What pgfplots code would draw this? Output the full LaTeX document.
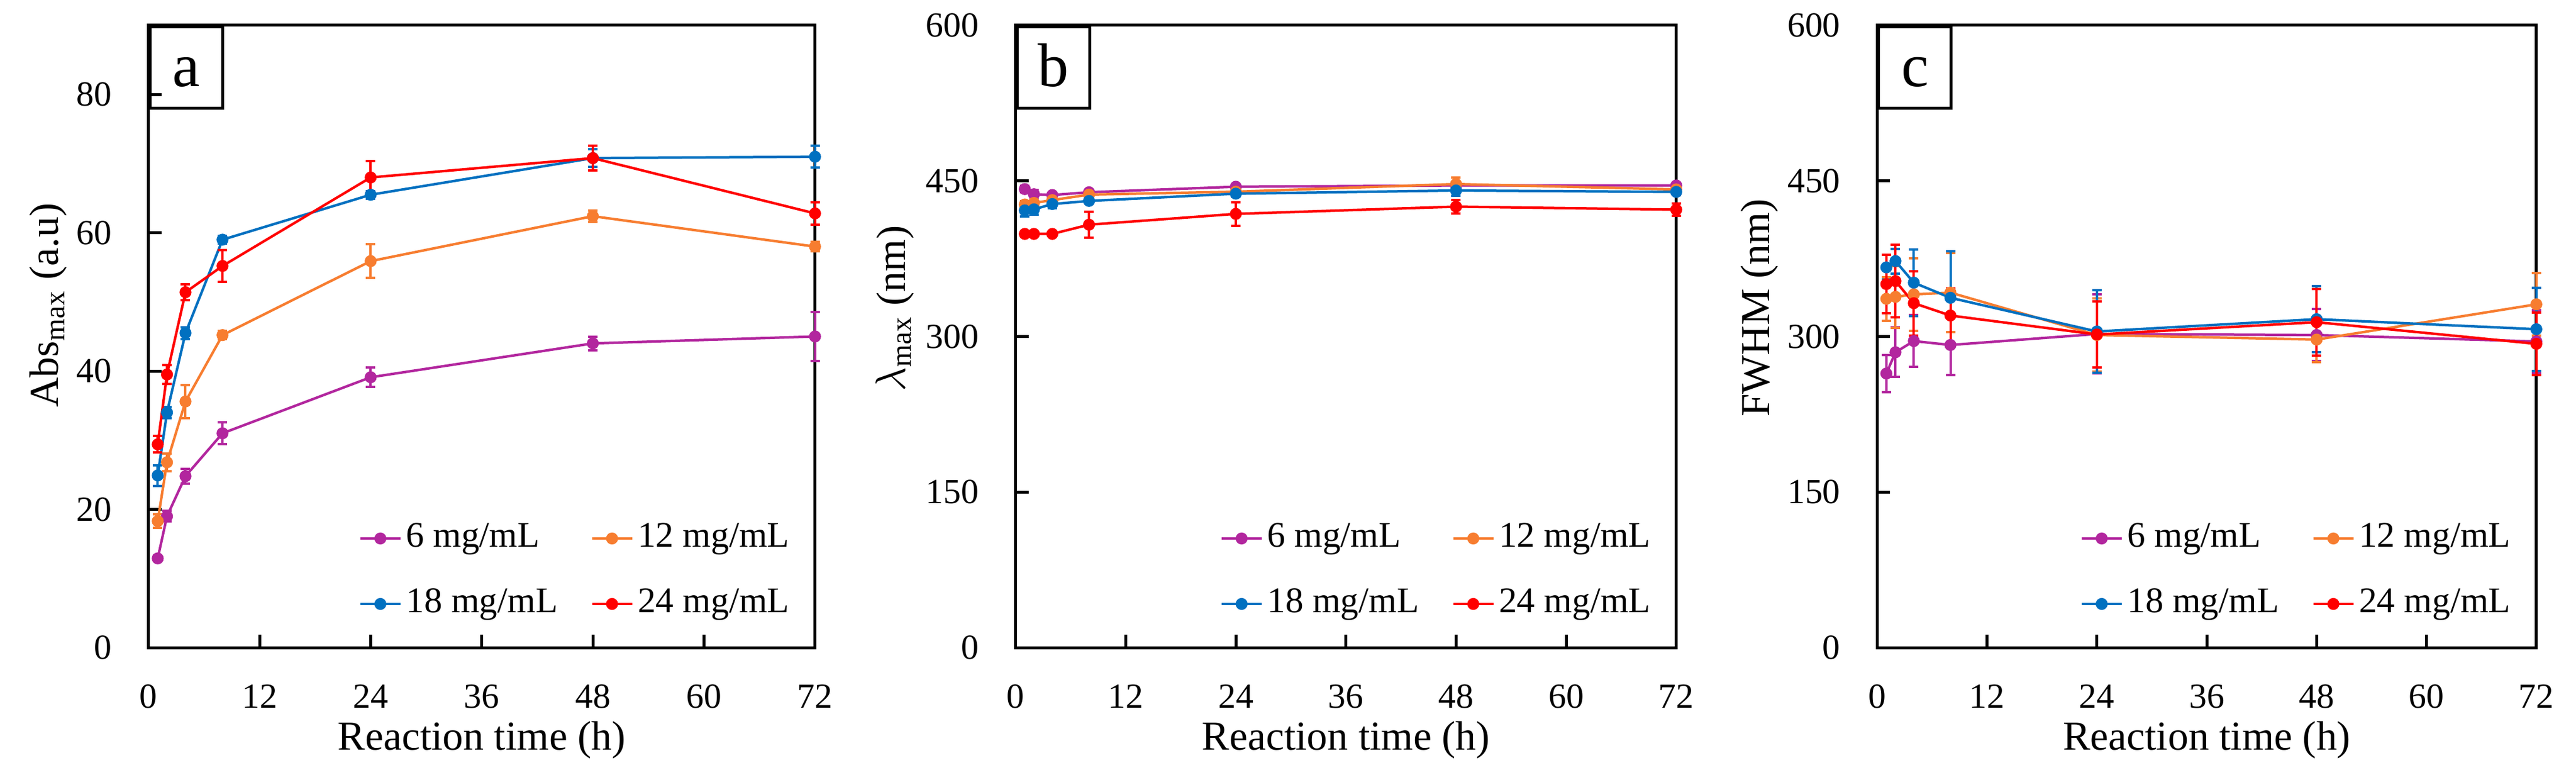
\documentclass[border=0pt]{standalone}
\usepackage{fontspec}
\setmainfont{Liberation Serif}
\usepackage{pgfplots}
\usepackage{pgfplotstable}
\pgfplotsset{compat=1.18}
\definecolor{c6}{RGB}{178,38,158}
\definecolor{c12}{RGB}{247,125,48}
\definecolor{c18}{RGB}{0,112,192}
\definecolor{c24}{RGB}{255,0,0}

\pgfplotstableread{
t a6 e6 a12 e12 a18 e18 a24 e24
1 12.9 0.4 18.3 1.0 24.9 1.5 29.4 1.2
2 19.0 0.75 26.8 1.3 34.0 0.8 39.5 1.35
4 24.8 1.05 35.6 2.4 45.5 0.85 51.4 1.15
8 31.0 1.55 45.2 0.6 59.0 0.55 55.2 2.3
24 39.1 1.4 55.9 2.45 65.5 0.55 68.0 2.4
48 44.0 1.0 62.4 0.8 70.8 1.25 70.8 1.8
72 45.0 3.5 58.0 0.7 71.0 1.6 62.8 1.65
}\tabA

\pgfplotstableread{
t a6 e6 a12 e12 a18 e18 a24 e24
1 442.1 3 427.3 3 421.6 6 398.9 0.5
2 437.2 4 428.8 3 422.6 5 398.9 0.5
4 436.4 2 431.5 3 427.7 4 398.9 0.5
8 439.1 2 436.8 2 430.7 2 407.8 12.7
24 444.4 2 439.6 3 437.7 3 418.2 11.4
48 445.6 2 447.0 6 440.8 5 425.2 6.4
72 445.6 2 441.8 3 439.4 3 422.3 6
}\tabB

\pgfplotstableread{
t a6 e6 a12 e12 a18 e18 a24 e24
1 264.3 18 336.3 21 366.6 12 350.5 28
2 284.8 24 338.2 30 372.7 12 353.4 35
4 295.6 25 340.6 35 351.9 32 332.1 31
8 291.8 29 342.3 38 337.3 45 320.2 26
24 302.4 38 301.4 35 304.8 40 301.9 32
48 301.4 25 297.0 22 316.7 32 313.8 32
72 295.2 30 331.0 30 307.0 40 292.9 30
}\tabC

\tikzset{
  tag/.style={draw, line width=1bp, anchor=north west, minimum width=24.6bp,
    inner sep=0pt, text height=20.2bp, text depth=7.4bp,
    font=\fontsize{21}{21}\selectfont},
}

\pgfplotsset{
  panel/.style={
    scale only axis,
    height=211bp,
    xmin=0, xmax=72,
    xtick={0,12,...,72},
    tick align=inside,
    xtick pos=bottom,
    ytick pos=left,
    major tick length=4.4bp,
    every tick/.style={black, line width=1bp},
    axis line style={line width=1bp},
    clip=false,
    /pgf/number format/assume math mode=true,
    ticklabel style={font=\fontsize{12}{14}\selectfont},
    xticklabel style={anchor=center, yshift=-16.6bp},
    yticklabel style={anchor=east, inner xsep=0pt, xshift=-12.3bp},
    label style={font=\fontsize{14}{16}\selectfont},
    xlabel={Reaction time (h)},
    xlabel style={at={([yshift=-34.7bp]axis description cs:0.5,0)}, anchor=base},
    legend columns=2,
    legend cell align=left,
    legend style={draw=none, fill=none, at={(rel axis cs:1,0)}, anchor=south east,
      xshift=-8.5bp, yshift=9bp, inner sep=0pt, row sep=11bp,
      font=\fontsize{12.3}{14}\selectfont,
      nodes={inner sep=0pt, text height=8.5bp, text depth=2.7bp},
      /tikz/every odd column/.append style={column sep=1.5bp},
      /tikz/every even column/.append style={column sep=11.2bp}},
    legend image code/.code={\draw[mark repeat=2,mark phase=2,##1] plot coordinates {(0bp,0bp) (6.8bp,0bp) (13.6bp,0bp)};},
  },
  ser/.style={color=#1, mark=*, mark size=1.6bp, line width=0.85bp,
    mark options={solid, fill=#1},
    error bars/.cd, y dir=both, y explicit,
    error bar style={line width=0.8bp, color=#1},
    error mark options={rotate=90, mark size=1.6bp, line width=0.8bp, color=#1}},
}

\begin{document}
\begin{tikzpicture}
\useasboundingbox (0,0) rectangle (873.4bp,262.8bp);

\begin{axis}[panel, at={(50.34bp,43.2bp)}, anchor=south west, width=226bp,
  ymin=0, ymax=90, ytick={0,20,...,80},
  ylabel={Abs\textsubscript{max} (a.u)},
  ylabel style={at={([xshift=-34bp]axis description cs:0,0.55)}, anchor=center}]
\addplot[ser=c6] table[x=t, y=a6, y error=e6] {\tabA};
\addplot[ser=c12] table[x=t, y=a12, y error=e12] {\tabA};
\addplot[ser=c18] table[x=t, y=a18, y error=e18] {\tabA};
\addplot[ser=c24] table[x=t, y=a24, y error=e24] {\tabA};
\legend{6 mg/mL, 12 mg/mL, 18 mg/mL, 24 mg/mL}
\node[tag] at (rel axis cs:0,1) {a};
\end{axis}

\begin{axis}[panel, at={(344.34bp,43.2bp)}, anchor=south west, width=224bp,
  ymin=0, ymax=600, ytick={0,150,...,600},
  ylabel={$\lambda$\textsubscript{max} (nm)},
  ylabel style={at={([xshift=-41bp]axis description cs:0,0.545)}, anchor=center}]
\addplot[ser=c6] table[x=t, y=a6, y error=e6] {\tabB};
\addplot[ser=c12] table[x=t, y=a12, y error=e12] {\tabB};
\addplot[ser=c18] table[x=t, y=a18, y error=e18] {\tabB};
\addplot[ser=c24] table[x=t, y=a24, y error=e24] {\tabB};
\legend{6 mg/mL, 12 mg/mL, 18 mg/mL, 24 mg/mL}
\node[tag] at (rel axis cs:0,1) {b};
\end{axis}

\begin{axis}[panel, at={(636.46bp,43.2bp)}, anchor=south west, width=223.5bp,
  ymin=0, ymax=600, ytick={0,150,...,600},
  ylabel={FWHM (nm)},
  ylabel style={at={([xshift=-40bp]axis description cs:0,0.546)}, anchor=center}]
\addplot[ser=c6] table[x=t, y=a6, y error=e6] {\tabC};
\addplot[ser=c12] table[x=t, y=a12, y error=e12] {\tabC};
\addplot[ser=c18] table[x=t, y=a18, y error=e18] {\tabC};
\addplot[ser=c24] table[x=t, y=a24, y error=e24] {\tabC};
\legend{6 mg/mL, 12 mg/mL, 18 mg/mL, 24 mg/mL}
\node[tag] at (rel axis cs:0,1) {c};
\end{axis}
\end{tikzpicture}
\end{document}
